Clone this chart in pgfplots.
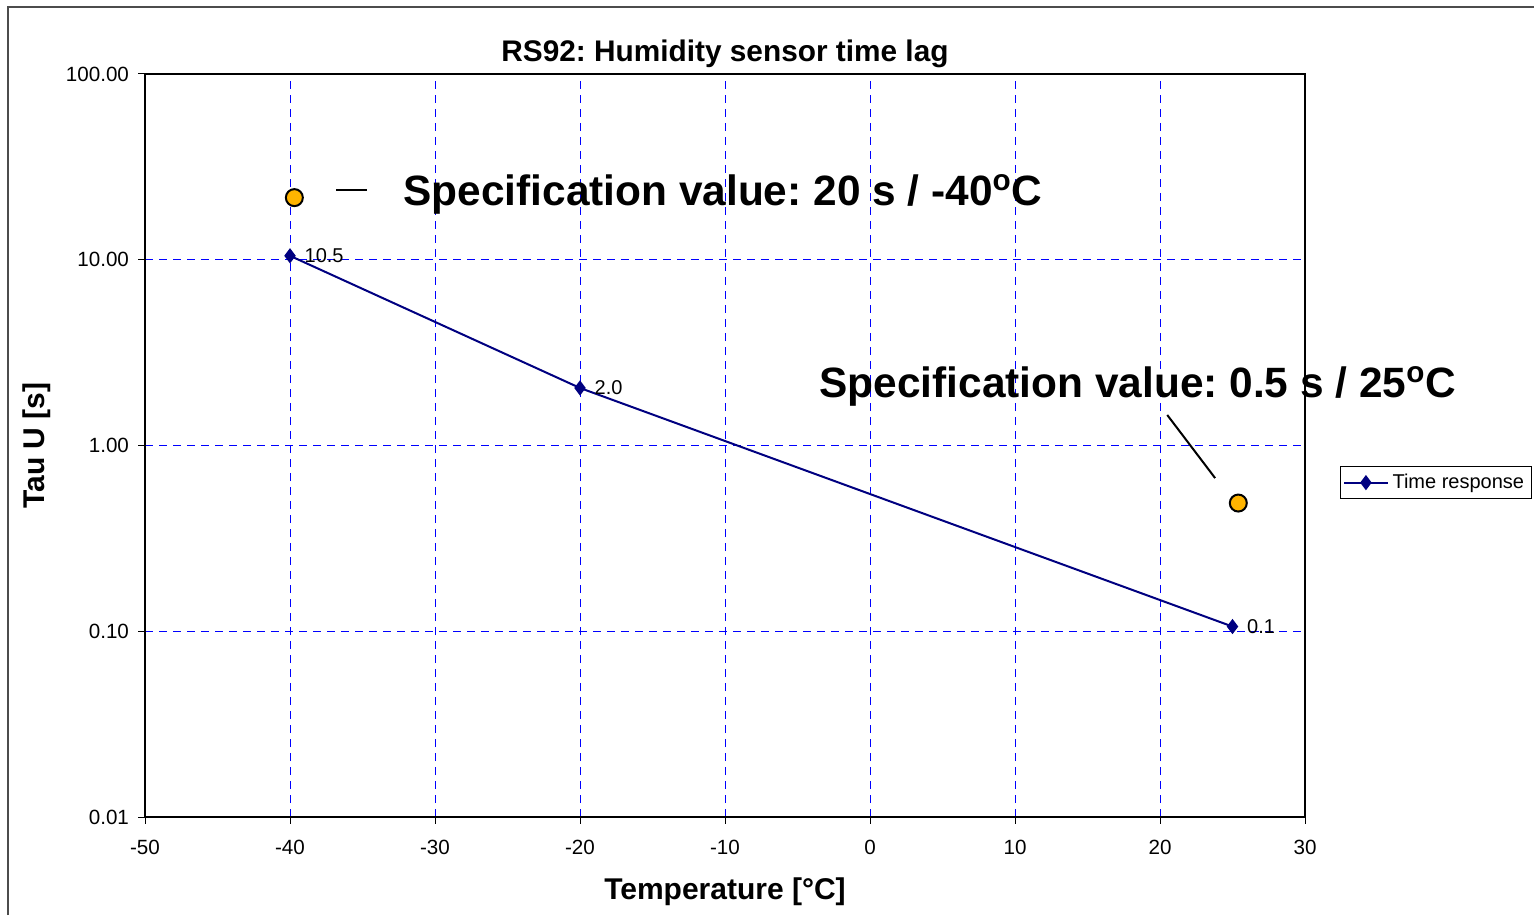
\documentclass[border=0pt]{standalone}
\usepackage{pgfplots}
\pgfplotsset{compat=1.18}
\usepackage{fontspec}
\setmainfont{Liberation Sans}
\frenchspacing
\definecolor{navy}{RGB}{0,0,128}
\definecolor{specorange}{RGB}{255,180,0}

\begin{document}
\begin{tikzpicture}
% page = the reference's frame, in pt from the axis' lower left corner
\useasboundingbox (-72.5pt,-49pt) rectangle (694.5pt,408.5pt);
\draw[black!70, line width=0.75pt] (-68.5pt,-49pt) -- (-68.5pt,405pt) -- (694.5pt,405pt);
\begin{axis}[
    scale only axis,
    width=580pt, height=371.5pt,
    clip=false,
    ymode=log,
    xmin=-50, xmax=30,
    ymin=0.01, ymax=100,
    xtick={-50,-40,...,30},
    ytick={0.01,0.1,1,10,100},
    yticklabels={0.01,0.10,1.00,10.00,100.00},
    yminorticks=false,
    /pgf/number format/assume math mode=true,
    tick label style={font=\fontsize{10.3}{12}\selectfont},
    xticklabel style={yshift=-4.5pt},
    yticklabel style={xshift=-1pt},
    tick align=outside,
    tick pos=left,
    major tick length=3.5pt,
    tick style={black, line width=0.5pt},
    grid=major,
    major grid style={blue, dash pattern=on 4pt off 3pt, line width=0.5pt},
    axis line style={black, line width=1pt},
    xlabel={Temperature [°C]},
    xlabel style={font=\fontsize{15}{18}\selectfont\bfseries, at={(axis description cs:0.5,-0.1)}, anchor=center},
    ylabel={Tau U [s]},
    ylabel style={font=\fontsize{15}{18}\selectfont\bfseries, at={(axis description cs:-0.093,0.5)}, anchor=center},
    legend style={at={(axis description cs:1.030,0.450)}, anchor=west,
        draw=black, line width=0.5pt, font=\fontsize{10}{12}\selectfont,
        inner sep=1.5pt},
    legend cell align=left,
    legend image code/.code={
        \draw[mark repeat=2,mark phase=2] plot coordinates {(0cm,0cm) (0.38cm,0cm) (0.76cm,0cm)};},
]
\addplot[navy, line width=1pt, mark=diamond*, mark size=3pt,
    mark options={solid, fill=navy},
    nodes near coords, point meta=explicit symbolic,
    every node near coord/.append style={anchor=west, text=black,
        font=\fontsize{10}{12}\selectfont, xshift=3.5pt}]
    table[meta=label] {
x     y     label
-40   10.5  10.5
-20   2.04  2.0
25    0.106 0.1
};
\addlegendentry{Time response}

\addplot[only marks, mark=*, mark size=4.25pt,
    mark options={fill=specorange, draw=black, line width=1pt}, forget plot]
    coordinates {(-39.7,21.6) (25.4,0.49)};

\node[font=\fontsize{14.9}{18}\selectfont\bfseries, anchor=center]
    at (axis description cs:0.5,1.027) {RS92: Humidity sensor time lag};

\draw[black, line width=1pt] (axis cs:-36.8,23.7) -- (axis cs:-34.7,23.7);
\draw[black, line width=1pt] (axis cs:20.5,1.46) -- (axis cs:23.8,0.668);
\node[anchor=west, inner sep=0, yshift=-2pt, font=\fontsize{21.2}{25}\selectfont\bfseries]
    at (axis cs:-32.2,23.5) {Specification value: 20 s / -40\textsuperscript{o}C};
\node[anchor=west, inner sep=0, yshift=-1.5pt, font=\fontsize{21.2}{25}\selectfont\bfseries]
    at (axis cs:-3.5,2.17) {Specification value: 0.5 s / 25\textsuperscript{o}C};
\end{axis}
\end{tikzpicture}
\end{document}
